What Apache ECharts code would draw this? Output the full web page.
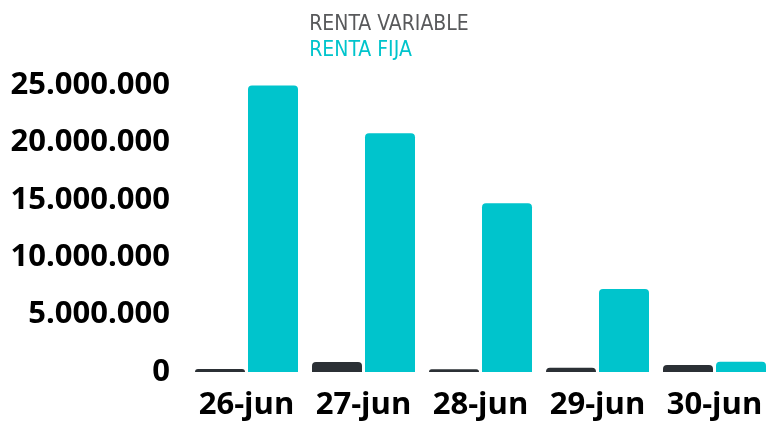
<!DOCTYPE html>
<html>
<head>
<meta charset="utf-8">
<script src="https://cdn.jsdelivr.net/npm/echarts@6/dist/echarts.min.js"></script>
<style>html,body{margin:0;padding:0;background:#fff}#c{width:773px;height:423px}</style>
</head>
<body>
<div id="c"></div>
<script>
const categories = ['26-jun', '27-jun', '28-jun', '29-jun', '30-jun'];
const rentaVariable = [260000, 870000, 230000, 370000, 610000];
const rentaFija = [24950000, 20800000, 14700000, 7230000, 900000];
const yTicks = [0, 5000000, 10000000, 15000000, 20000000, 25000000];

const chart = echarts.init(document.getElementById('c'), null, {renderer: 'canvas'});
function fmt(v) {
  return String(Math.round(v)).replace(/\B(?=(\d{3})+(?!\d))/g, '.');
}
chart.setOption({
  animation: false,
  legend: {
    orient: 'vertical',
    left: 'center',
    top: 14,
    itemWidth: 0,
    itemHeight: 0,
    itemGap: 5,
    icon: 'none',
    padding: [0, 16, 0, 0],
    data: [
      {name: 'RENTA VARIABLE', textStyle: {color: '#58595b'}},
      {name: 'RENTA FIJA', textStyle: {color: '#00c4cc'}}
    ],
    textStyle: {fontFamily: '"Liberation Sans Narrow", "DejaVu Sans Condensed", sans-serif', fontSize: 21, padding: 0}
  },
  grid: {left: 188, top: 85, width: 592, bottom: 51, containLabel: false},
  xAxis: {
    type: 'category',
    data: categories,
    axisLine: {show: false},
    axisTick: {show: false},
    axisLabel: {interval: 0, color: '#000', fontFamily: '"Open Sans", sans-serif', fontWeight: 'bold', fontSize: 31, margin: 18}
  },
  yAxis: {
    type: 'value',
    min: yTicks[0],
    max: yTicks[yTicks.length - 1],
    interval: yTicks[1] - yTicks[0],
    splitLine: {show: false},
    axisLine: {show: false},
    axisTick: {show: false},
    axisLabel: {color: '#000', fontFamily: '"Open Sans", sans-serif', fontWeight: 'bold', fontSize: 31, margin: 18, formatter: fmt}
  },
  series: [
    {name: 'RENTA VARIABLE', type: 'bar', data: rentaVariable, barWidth: 50, barGap: '6%',
     itemStyle: {color: '#2b3035', borderRadius: [4, 4, 0, 0]}},
    {name: 'RENTA FIJA', type: 'bar', data: rentaFija, barWidth: 50,
     itemStyle: {color: '#00c4cc', borderRadius: [4, 4, 0, 0]}}
  ]
});
</script>
</body>
</html>
